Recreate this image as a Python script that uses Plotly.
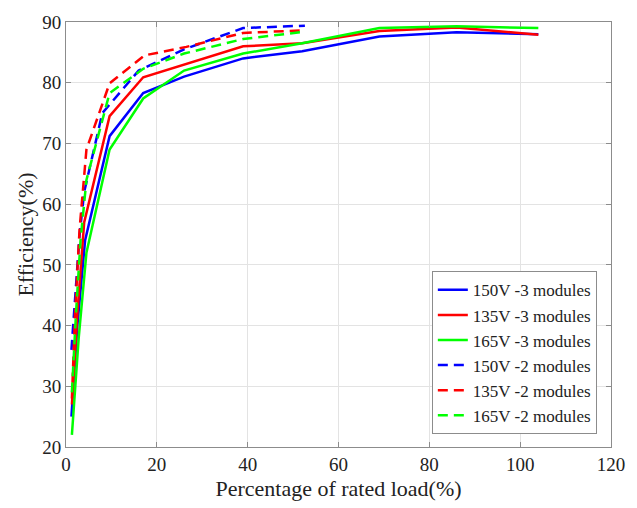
import plotly.graph_objects as go

# Data
names = ["150V -3 modules", "135V -3 modules", "165V -3 modules",
         "150V -2 modules", "135V -2 modules", "165V -2 modules"]
colors = ["#0000ff", "#ff0000", "#00ff00", "#0000ff", "#ff0000", "#00ff00"]
dashes = ["solid", "solid", "solid", "10px,6px", "10px,6px", "10px,6px"]

x_150_3 = [1.2, 2.5, 4.2, 9.6, 17, 26, 39, 52, 69, 86, 104]
y_150_3 = [25, 40, 54, 71.2, 78.3, 81, 84, 85.2, 87.6, 88.3, 88.0]
x_135_3 = [1.3, 2.5, 4.0, 9.6, 17, 26, 39, 52, 69, 86, 104]
y_135_3 = [27, 42, 57, 74.5, 80.9, 83, 86, 86.5, 88.5, 89.1, 87.9]
x_165_3 = [1.3, 2.8, 4.5, 9.6, 17, 26, 39, 52, 69, 86, 104]
y_165_3 = [22, 38, 52, 69, 77.4, 82, 84.8, 86.5, 89, 89.3, 89.0]

x_150_2 = [1.2, 2.0, 3.0, 4.0, 8.0, 16, 26, 39, 52.6]
y_150_2 = [36, 45, 55, 62, 75, 82, 85.5, 89, 89.4]
x_135_2 = [1.3, 2.0, 3.0, 4.5, 9.6, 17.3, 26.5, 39, 51.5]
y_135_2 = [28, 42, 56, 69, 79.9, 84.5, 85.9, 88.2, 88.6]
x_165_2 = [1.3, 2.2, 3.2, 4.5, 9.6, 17, 26, 39, 51.5]
y_165_2 = [29, 42, 54, 64, 78.3, 82.3, 84.8, 87.2, 88.3]

xs = [x_150_3, x_135_3, x_165_3, x_150_2, x_135_2, x_165_2]
ys = [y_150_3, y_135_3, y_165_3, y_150_2, y_135_2, y_165_2]

x_ticks = [0, 20, 40, 60, 80, 100, 120]
y_ticks = [20, 30, 40, 50, 60, 70, 80, 90]

fig = go.Figure()
for n, c, d, x, y in zip(names, colors, dashes, xs, ys):
    fig.add_trace(go.Scatter(x=x, y=y, mode="lines", name=n,
                             line=dict(color=c, width=2.5, dash=d)))

font_family = "Liberation Serif"
axis_common = dict(showline=True, linecolor="#8c8c8c", linewidth=1, mirror="ticks",
                   ticks="inside", ticklen=5, tickcolor="#8c8c8c",
                   showgrid=True, gridcolor="#e3e3e3", gridwidth=1, zeroline=False,
                   tickfont=dict(family=font_family, size=19, color="#222"))

fig.update_layout(
    width=637, height=508,
    margin=dict(l=66, r=26, t=18, b=61),
    paper_bgcolor="white", plot_bgcolor="white",
    font=dict(family=font_family, color="#222"),
    xaxis=dict(range=[0, 120], tickvals=x_ticks,
               title=dict(text="Percentage of rated load(%)", font=dict(size=22), standoff=6),
               **axis_common),
    yaxis=dict(range=[20, 90], tickvals=y_ticks,
               title=dict(text="Efficiency(%)", font=dict(size=22), standoff=2),
               **axis_common),
    legend=dict(x=0.974, y=0.03, xanchor="right", yanchor="bottom",
                bgcolor="white", bordercolor="#8c8c8c", borderwidth=1,
                font=dict(family=font_family, size=17, color="#222"),
                itemwidth=30, tracegroupgap=0),
    showlegend=True,
)

fig.write_html("out.html")
